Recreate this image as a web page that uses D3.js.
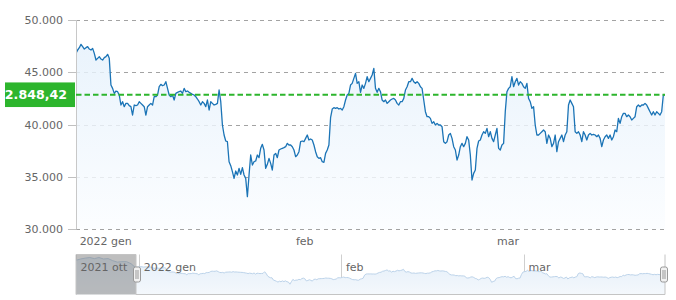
<!DOCTYPE html>
<html><head><meta charset="utf-8">
<script src="https://cdn.jsdelivr.net/npm/d3@7"></script>
<style>body{margin:0;background:#fff;} svg{display:block;font-family:"DejaVu Sans",Verdana,sans-serif;}</style>
</head><body><svg id="c" width="676" height="300"></svg>
<script>
// ---- data ----
const startTime = Date.UTC(2021, 11, 31, 12);
const stepHours = 5.5;
const prices = [
46810,47129,47352,47671,47448,47224,47352,47448,47224,47129,47288,46810,46172,46331,46491,46267,46172,46395,46491,46714,46331,
43779,43460,42982,43205,43141,42822,41865,42184,41706,42025,42025,41801,41706,40908,41865,41801,41865,42184,42025,41865,41706,
40908,41706,41865,42025,41865,42663,42663,42822,43620,43843,43715,43779,44098,43460,42822,42663,42822,42344,42982,43077,43141,
43205,42982,43460,43141,43205,43077,42982,42886,42822,42663,42439,42184,41865,42184,42025,41706,42344,41387,42184,42025,41865,
41929,42025,43301,42184,39951,38994,38420,
38356,36442,36059,35485,34847,35549,35166,35804,35230,35868,35166,34847,33092,35166,37080,36123,36442,36506,37080,36825,37718,
38101,37559,35804,36187,36761,36283,35645,37080,37240,36825,37559,37654,37718,37782,37878,38197,38037,38037,37878,37559,36921,
37080,37399,38356,38420,38356,38675,38994,38516,38611,38516,38037,37399,36921,36761,36825,36442,36378,37240,37559,38037,40653,
41482,41610,41546,41610,41482,41546,41387,41706,42344,42822,42982,43779,43939,44417,44896,43939,44098,43077,43779,43460,43939,
44577,44098,44417,
44736,45374,43460,43077,43460,43141,42344,42184,42344,42025,42184,42344,42439,42503,42344,42025,41865,42184,42184,42503,43301,
43620,44098,44098,44417,44098,43939,44098,43939,43620,43460,42344,41227,40749,40749,40589,40111,40270,39951,40111,39951,39951,
39792,38356,38197,38356,38994,39154,38675,37878,37559,36602,37080,37878,38197,37878,38197,38835,38516,37080,34688,35326,35645,
37718,38420,38516,38994,39313,39154,39632,38835,39313,38675,38356,38994,39632,37718,37559,38037,38197,41227,43141,43460,43620,
44577,43620,44098,44417,43779,44098,43939,
43620,43460,43939,42503,42184,41546,41706,39951,38994,38994,39154,39313,39473,39313,38197,38994,38675,37878,38197,38994,37399,
38356,38675,38994,38356,38994,39313,41865,42344,42025,41706,39313,39154,39313,38994,38356,39313,38994,38516,38994,39154,38994,
39058,38994,38835,38994,38675,37878,38516,38835,38994,38675,38994,38516,38835,39473,39313,40589,40111,40749,41068,41068,40749,
40908,40749,40430,40589,40749,41706,41865,41706,41865,41865,42025,41865,41546,41227,40908,41227,40908,41227,41068,40908,41227,
42822,42848.42
];
const navOldStart = Date.UTC(2021, 9, 1);
const navOldStepDays = 7;
const navOldPrices = [52800,53900,54600,55100,54200,55100,53900,54200,52500,51300,51700,51700,50000,46600];
const lastPrice = 42848.42;
const yTicks = [30000, 35000, 40000, 45000, 50000];
const xTickDates = [Date.UTC(2022,0,1), Date.UTC(2022,1,1), Date.UTC(2022,2,1)];
const xTickLabels = ["2022 gen", "feb", "mar"];
const navTickDates = [Date.UTC(2021,9,1), Date.UTC(2022,0,1), Date.UTC(2022,1,1), Date.UTC(2022,2,1)];
const navTickLabels = ["2021 ott", "2022 gen", "feb", "mar"];

// ---- setup ----
const itLocale = d3.formatLocale({decimal: ",", thousands: ".", grouping: [3], currency: ["", " €"]});
const fmtInt = itLocale.format(",.0f");
const fmtDec = itLocale.format(",.2f");

const series = prices.map((v, i) => ({t: new Date(startTime + i * stepHours * 3600e3), v}));
const oldSeries = navOldPrices.map((v, i) => ({t: new Date(navOldStart + i * navOldStepDays * 864e5), v}));
const navSeries = oldSeries.concat(series);

const L = 76, R = 665, T = 20, B = 229;
const NT = 254.5, NB = 294.5;

const svg = d3.select("#c");
const x = d3.scaleUtc().domain([series[0].t, series[series.length - 1].t]).range([L, R]);
const y = d3.scaleLinear().domain([30000, 50000]).range([B, T]);

const defs = svg.append("defs");
const g1 = defs.append("linearGradient").attr("id", "areaGrad").attr("gradientUnits", "userSpaceOnUse")
  .attr("x1", 0).attr("x2", 0).attr("y1", T).attr("y2", B);
g1.append("stop").attr("offset", 0).attr("stop-color", "#e2effb").attr("stop-opacity", 0.82);
g1.append("stop").attr("offset", 1).attr("stop-color", "#fbfdff").attr("stop-opacity", 0.82);
const g2 = defs.append("linearGradient").attr("id", "navGrad").attr("gradientUnits", "userSpaceOnUse")
  .attr("x1", 0).attr("x2", 0).attr("y1", NT).attr("y2", NB);
g2.append("stop").attr("offset", 0).attr("stop-color", "#e3eef9");
g2.append("stop").attr("offset", 1).attr("stop-color", "#f4f8fc");
defs.append("clipPath").attr("id", "plotClip").append("rect").attr("x", L).attr("y", 0).attr("width", R - L + 1).attr("height", B);
defs.append("clipPath").attr("id", "labelClip").append("rect").attr("x", 5).attr("y", 0).attr("width", 71).attr("height", 300);

// grid
svg.append("g").selectAll("line").data(yTicks).join("line")
  .attr("x1", L).attr("x2", R).attr("y1", d => Math.round(y(d)) + 0.5).attr("y2", d => Math.round(y(d)) + 0.5)
  .attr("stroke", "#a3a3a3").attr("stroke-width", 1).attr("stroke-dasharray", "4,4");

// area + line
const area = d3.area().x(d => x(d.t)).y0(B).y1(d => y(d.v));
const line = d3.line().x(d => x(d.t)).y(d => y(d.v));
svg.append("path").datum(series).attr("d", area).attr("fill", "url(#areaGrad)").attr("clip-path", "url(#plotClip)");
svg.append("path").datum(series).attr("d", line).attr("fill", "none").attr("stroke", "#1b74b6")
  .attr("stroke-width", 1.3).attr("stroke-linejoin", "round").attr("clip-path", "url(#plotClip)");

// y axis
svg.append("line").attr("x1", L + 0.5).attr("x2", L + 0.5).attr("y1", T).attr("y2", B + 0.5).attr("stroke", "#c8c8c8");
svg.append("g").selectAll("line").data(yTicks).join("line")
  .attr("x1", L - 8).attr("x2", L).attr("y1", d => Math.round(y(d)) + 0.5).attr("y2", d => Math.round(y(d)) + 0.5)
  .attr("stroke", "#c0c0c0");
svg.append("g").selectAll("text").data(yTicks).join("text")
  .attr("x", 63).attr("y", d => y(d) + 4).attr("text-anchor", "end")
  .attr("font-size", 11).attr("fill", "#666").text(d => fmtInt(d));

// x labels
svg.append("g").selectAll("text").data(xTickDates).join("text")
  .attr("x", d => x(new Date(d))).attr("y", 245).attr("text-anchor", "middle")
  .attr("font-size", 11).attr("fill", "#666").text((d, i) => xTickLabels[i])
  .each(function(d) {
    const bb = this.getBBox();
    if (bb.x < L) d3.select(this).attr("text-anchor", "start").attr("x", x(new Date(d)));
  });

// last price line + label (label clipped at the chart's left edge, as in the original)
const yl = y(lastPrice);
svg.append("line").attr("x1", L).attr("x2", R).attr("y1", yl).attr("y2", yl)
  .attr("stroke", "#2db52d").attr("stroke-width", 2).attr("stroke-dasharray", "5.5,3");
const lg = svg.append("g").attr("clip-path", "url(#labelClip)");
lg.append("rect").attr("x", -10).attr("y", yl - 12.3).attr("width", 85).attr("height", 24.6).attr("fill", "#2db52d");
lg.append("text").attr("x", 67).attr("y", yl + 4.6).attr("text-anchor", "end")
  .attr("font-size", 12.6).attr("font-weight", "bold").attr("fill", "#fff").text(fmtDec(lastPrice));

// ---- navigator ----
const selStart = series[0].t, selEnd = series[series.length - 1].t;
const nx = d3.scaleUtc().domain([oldSeries[0].t, selStart, selEnd]).range([L, 136, R]);
const ny = d3.scaleLinear().domain([24600, 57600]).range([NB, NT]);

svg.append("g").selectAll("line").data(navTickDates).join("line")
  .attr("x1", d => Math.round(nx(new Date(d))) + 0.5).attr("x2", d => Math.round(nx(new Date(d))) + 0.5)
  .attr("y1", NT).attr("y2", NB).attr("stroke", "#cfcfcf");

const navArea = d3.area().x(d => nx(d.t)).y0(NB).y1(d => ny(d.v));
const navLine = d3.line().x(d => nx(d.t)).y(d => ny(d.v));
svg.append("path").datum(navSeries).attr("d", navArea).attr("fill", "url(#navGrad)");
svg.append("path").datum(navSeries).attr("d", navLine).attr("fill", "none").attr("stroke", "#bcd3ea").attr("stroke-width", 1);

svg.append("g").selectAll("text").data(navTickDates).join("text")
  .attr("x", d => nx(new Date(d)) + 4.5).attr("y", 271).attr("text-anchor", "start")
  .attr("font-size", 11).attr("fill", "#666").text((d, i) => navTickLabels[i]);

// mask over unselected part
const mx = nx(selStart);
svg.append("rect").attr("x", L).attr("y", NT).attr("width", mx - L).attr("height", NB - NT)
  .attr("fill", "rgba(100,100,100,0.42)");

// outline
svg.append("path")
  .attr("d", `M${L},${NB} L${L},${NT} L${mx},${NT} L${mx},${NB} L${R},${NB} L${R},${NT}`)
  .attr("fill", "none").attr("stroke", "#c4c4c4").attr("stroke-width", 1);

// handles
[mx + 1, R - 1].forEach(hx => {
  const hg = svg.append("g");
  hg.append("rect").attr("x", hx - 3.5).attr("y", 267).attr("width", 7).attr("height", 15).attr("rx", 2)
    .attr("fill", "#f2f2f2").attr("stroke", "#999");
  hg.append("line").attr("x1", hx - 1).attr("x2", hx - 1).attr("y1", 270).attr("y2", 279).attr("stroke", "#999");
  hg.append("line").attr("x1", hx + 1).attr("x2", hx + 1).attr("y1", 270).attr("y2", 279).attr("stroke", "#999");
});
</script>
</body></html>
